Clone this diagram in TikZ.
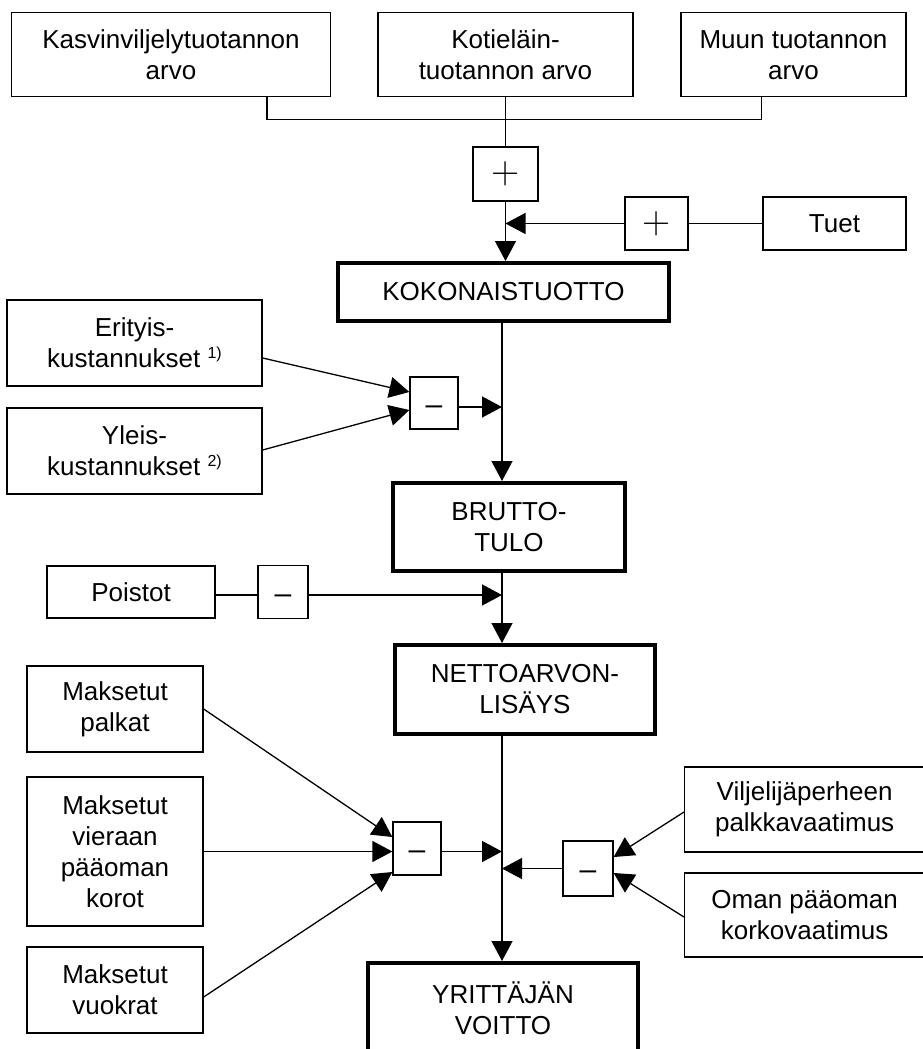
\documentclass[tikz,border=0pt]{standalone}
\usepackage{fontspec}
\setmainfont{Liberation Sans}
\usetikzlibrary{arrows.meta,calc}
\newcommand\fnote[1]{\ \raisebox{9pt}{\fontsize{16}{16}\selectfont #1}}
\begin{document}
\begin{tikzpicture}[x=1pt,y=-1pt,
  box/.style={draw, line width=1.3pt, align=center, inner sep=0pt, font=\fontsize{26}{31}\selectfont},
  mainbox/.style={box, line width=4pt},
  minusop/.style={draw, line width=1.3pt, inner sep=0pt, font=\fontsize{30}{30}\selectfont, text height=22pt, text depth=0pt},
  plusop/.style={draw, line width=1.3pt, inner sep=0pt, font=\fontfamily{lmr}\fontsize{39}{39}\selectfont},
  link/.style={line width=1.3pt},
  arr/.style={line width=1.3pt, -{Triangle[length=20pt,width=21pt]}}]
\useasboundingbox (0,0) rectangle (922,1049);
\coordinate (axis) at (502,0);
% top row
\node[box, minimum width=319pt, minimum height=84pt] (kasv) at (171,54.7) {Kasvinviljelytuotannon\\arvo};
\node[box, minimum width=255pt, minimum height=84pt] (koti) at (505.5,54.7) {Kotieläin-\\tuotannon arvo};
\node[box, minimum width=225pt, minimum height=84pt] (muun) at (793.5,54.7) {Muun tuotannon\\arvo};
\coordinate (join) at (505.5,119.5);
\node[plusop, minimum width=65pt, minimum height=54pt] (p1) at (505.5,174) {+};
\node[box, minimum width=143pt, minimum height=53pt] (tuet) at (834.5,223.5) {Tuet};
\node[plusop, minimum width=63pt, minimum height=53pt] (p2) at (656.5,223.5) {+};
\node[mainbox, minimum width=331pt, minimum height=58pt] (koko) at (503.5,292) {KOKONAISTUOTTO};
\draw[link] ([xshift=96pt]kasv.south) |- (join) -| ([xshift=-32pt]muun.south);
\draw[link] (koti.south) -- (p1.north);
\draw[arr] (p1.south) -- (p1.south |- koko.north);
\draw[link] (tuet.west) -- (p2.east);
\draw[arr] (p2.west) -- (p1.south |- p2.west);
% kustannukset
\node[box, minimum width=255pt, minimum height=86pt] (erit) at (134.5,343) {Erityis-\\kustannukset\fnote{1)}};
\node[box, minimum width=255pt, minimum height=86pt] (yleis) at (134.5,451) {Yleis-\\kustannukset\fnote{2)}};
\node[minusop, minimum width=48pt, minimum height=52pt] (m1) at (434,403) {–};
\coordinate (m1o) at ([yshift=-4pt]m1.east);
\draw[arr] ([yshift=-15pt]erit.east) -- ([yshift=11pt]m1.west);
\draw[arr] ([yshift=1pt]yleis.east) -- ([yshift=-7pt]m1.west);
\draw[arr] (m1o) -- (m1o -| axis);
\node[mainbox, minimum width=232pt, minimum height=88pt] (brut) at (509,527) {BRUTTO-\\TULO};
\draw[arr] (koko.south -| axis) -- (brut.north -| axis);
% poistot
\node[box, minimum width=168pt, minimum height=52pt] (poist) at (131,592) {Poistot};
\node[minusop, minimum width=50pt, minimum height=53pt] (m2) at (283,592) {–};
\coordinate (m2o) at ([yshift=-3pt]m2.east);
\draw[link] ([yshift=-3pt]poist.east) -- ([yshift=-3pt]m2.west);
\draw[arr] (m2o) -- (m2o -| axis);
\node[mainbox, minimum width=260pt, minimum height=89pt] (netto) at (525,689.5) {NETTOARVON-\\LISÄYS};
\draw[arr] (brut.south -| axis) -- (netto.north -| axis);
% maksetut
\node[box, minimum width=176pt, minimum height=86pt] (palk) at (115,709) {Maksetut\\palkat};
\node[box, minimum width=176pt, minimum height=149pt] (vier) at (115,851.5) {Maksetut\\vieraan\\pääoman\\korot};
\node[box, minimum width=176pt, minimum height=86pt] (vuok) at (115,990) {Maksetut\\vuokrat};
\node[minusop, minimum width=48pt, minimum height=53pt] (m3) at (417,848.5) {–};
\draw[arr] (palk.east) -- ([yshift=11.5pt]m3.west);
\draw[arr] (vier.east) -- (vier.east -| m3.west);
\draw[arr] ([yshift=-7pt]vuok.east) -- ([yshift=-23.5pt]m3.west);
\draw[arr] (vier.east -| m3.east) -- (vier.east -| axis);
% right side
\node[minusop, minimum width=50pt, minimum height=55pt] (m4) at (588,868.5) {–};
\node[box, minimum width=240pt, minimum height=85pt, anchor=west] (vilj) at (684,809.5) {Viljelijäperheen\\palkkavaatimus};
\node[box, minimum width=240pt, minimum height=84pt, anchor=west] (oman) at (684,915) {Oman pääoman\\korkovaatimus};
\draw[arr] ([yshift=-2.5pt]vilj.west) -- ([yshift=11.5pt]m4.east);
\draw[arr] ([yshift=-2pt]oman.west) -- ([yshift=-4.5pt]m4.east);
\draw[arr] (m4.west) -- (m4.west -| axis);
% result
\node[mainbox, minimum width=270pt, minimum height=90pt] (yrit) at (503,1008) {YRITTÄJÄN\\VOITTO};
\draw[arr] (netto.south -| axis) -- (yrit.north -| axis);
\end{tikzpicture}
\end{document}
